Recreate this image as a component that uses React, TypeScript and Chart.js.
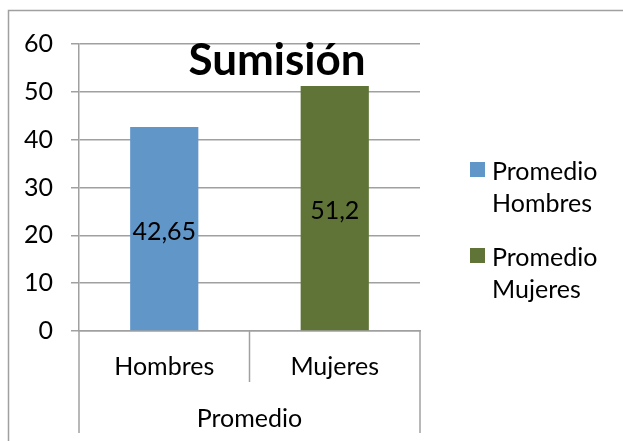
import React, { useEffect, useRef } from "react";
import { Chart, registerables } from "chart.js";

Chart.register(...registerables);

const categories = ["Hombres", "Mujeres"];
const groupLabel = "Promedio";
const seriesNames = [["Promedio", "Hombres"], ["Promedio", "Mujeres"]];
const hombresValues = [42.65, null];
const mujeresValues = [null, 51.2];
const seriesColors = ["#6196C9", "#5F7436"];
const titleText = "Sumisión";
const yMin = 0;
const yMax = 60;
const yStep = 10;

const FONT = "Lato, 'Open Sans', sans-serif";
const FS = 25;
const LINE = "#a0a0a0";

const decoPlugin = {
  id: "deco",
  afterDraw(chart: any) {
    const ctx = chart.ctx;
    const ca = chart.chartArea;
    const xs = chart.scales.x;
    ctx.save();
    // outer border
    ctx.strokeStyle = LINE;
    ctx.lineWidth = 1.5;
    ctx.strokeRect(8.5, 10.5, 800, 600);

    // category separators
    const p0 = xs.getPixelForValue(0);
    const p1 = xs.getPixelForValue(1);
    const mid = (p0 + p1) / 2;
    const lines = [
      [ca.left, ca.bottom + 102],
      [mid, ca.bottom + 51],
      [ca.right, ca.bottom + 102],
    ];
    for (const [x, y2] of lines) {
      ctx.beginPath();
      ctx.moveTo(x, ca.bottom);
      ctx.lineTo(x, y2);
      ctx.stroke();
    }

    // group label
    ctx.fillStyle = "#000";
    ctx.font = `${FS}px ${FONT}`;
    ctx.textAlign = "center";
    ctx.textBaseline = "middle";
    ctx.fillText(groupLabel, (ca.left + ca.right) / 2, ca.bottom + 88);

    // data labels
    chart.data.datasets.forEach((ds: any, di: number) => {
      const meta = chart.getDatasetMeta(di);
      meta.data.forEach((bar: any, i: number) => {
        const v = ds.data[i];
        if (v === null || v === undefined) return;
        const yc = (bar.y + bar.base) / 2 + 3;
        ctx.fillText(String(v).replace(".", ","), bar.x, yc);
      });
    });

    // title
    ctx.font = `bold 44px ${FONT}`;
    ctx.fillText(titleText, ca.left + 198, ca.top + 17);

    // legend
    ctx.textAlign = "left";
    ctx.font = `${FS}px ${FONT}`;
    chart.data.datasets.forEach((ds: any, di: number) => {
      const top = ca.top + 118 + di * 86;
      const x = ca.right + 50;
      ctx.fillStyle = ds.backgroundColor;
      ctx.fillRect(x, top, 15, 15);
      ctx.fillStyle = "#000";
      const names = seriesNames[di];
      names.forEach((t, li) => {
        ctx.fillText(t, x + 22, top + 10 + li * 32);
      });
    });
    ctx.restore();
  },
};

export default function App() {
  const ref = useRef<HTMLCanvasElement>(null);
  useEffect(() => {
    if (!ref.current) return;
    const chart = new Chart(ref.current, {
      type: "bar",
      data: {
        labels: categories,
        datasets: [
          { label: seriesNames[0].join(" "), data: hombresValues, backgroundColor: seriesColors[0], barPercentage: 0.4, categoryPercentage: 1 },
          { label: seriesNames[1].join(" "), data: mujeresValues, backgroundColor: seriesColors[1], barPercentage: 0.4, categoryPercentage: 1 },
        ],
      },
      options: {
        responsive: false,
        animation: false,
        devicePixelRatio: 1,
        layout: { padding: { left: 0, top: 44, right: 203, bottom: 0 } },
        plugins: { legend: { display: false }, tooltip: { enabled: false }, title: { display: false } },
        scales: {
          x: {
            stacked: true,
            grid: { display: false, drawTicks: false },
            border: { display: true, color: LINE, width: 1.5 },
            ticks: { color: "#000", font: { family: FONT, size: FS }, padding: 21, maxRotation: 0 },
            afterFit: (s: any) => { s.height = 110; },
          },
          y: {
            stacked: true,
            min: yMin,
            max: yMax,
            grid: { color: LINE, lineWidth: 1.5, tickLength: 8 },
            border: { display: true, color: LINE, width: 1.5 },
            ticks: { stepSize: yStep, color: "#000", font: { family: FONT, size: FS }, padding: 18 },
            afterFit: (s: any) => { s.width = 79; },
          },
        },
      },
      plugins: [decoPlugin],
    });
    return () => chart.destroy();
  }, []);
  return (
    <div style={{ position: "fixed", left: 0, top: 0, width: 623, height: 441, background: "#fff" }}>
      <canvas ref={ref} width={623} height={441} style={{ display: "block" }} />
    </div>
  );
}
